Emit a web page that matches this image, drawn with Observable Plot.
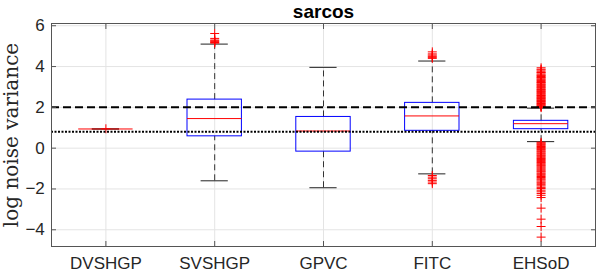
<!DOCTYPE html>
<html><head><meta charset="utf-8">
<script src="https://cdn.jsdelivr.net/npm/d3@7"></script>
<script src="https://cdn.jsdelivr.net/npm/@observablehq/plot@0.6"></script>
<style>html,body{margin:0;padding:0;background:#fff;} #chart svg{display:block;}</style>
</head><body><div id="chart"></div>
<script>
const title = "sarcos";
const yLabel = "log noise variance";
const categories = ["DVSHGP", "SVSHGP", "GPVC", "FITC", "EHSoD"];
const yTicks = [-4, -2, 0, 2, 4, 6];
const yDomain = [-4.82, 6.11];

// box statistics per category
const q1 = [0.94, 0.58, -0.17, 0.85, 0.93];
const median = [0.94, 1.45, 0.84, 1.58, 1.20];
const q3 = [0.94, 2.38, 1.53, 2.22, 1.34];
const whiskerLow = [0.94, -1.60, -1.94, -1.26, 0.32];
const whiskerHigh = [0.94, 5.10, 3.96, 4.27, 1.96];

// outliers per category
const outliersDVSHGP = [0.95];
const outliersSVSHGP = [5.62, 5.38, 5.30, 5.26, 5.22, 5.18, 5.15];
const outliersGPVC = [];
const outliersFITC = [4.72, 4.62, 4.56, 4.50, 4.45, 4.40, -1.34, -1.42, -1.50, -1.58, -1.66, -1.74];
const outliersEHSoD = [3.94, 3.87, 3.83, 3.77, 3.71, 3.69, 3.63, 3.58, 3.55, 3.51, 3.46, 3.44, 3.39, 3.35, 3.31, 3.27, 3.22, 3.20, 3.15, 3.11, 3.08, 3.03, 2.99, 2.96, 2.91, 2.87, 2.84, 2.80, 2.77, 2.72, 2.69, 2.65, 2.61, 2.58, 2.54, 2.50, 2.47, 2.43, 2.40, 2.36, 2.33, 2.29, 2.26, 2.22, 2.19, 2.15, 2.12, 2.08, 2.05, 2.02, 1.99,
  0.29, 0.25, 0.21, 0.17, 0.12, 0.08, 0.03, -0.01, -0.06, -0.10, -0.15, -0.19, -0.24, -0.28, -0.33, -0.37, -0.42, -0.47, -0.51, -0.56, -0.60, -0.65, -0.70, -0.74, -0.79, -0.84, -0.88, -0.93, -0.98, -1.03, -1.08, -1.13, -1.17, -1.23, -1.28, -1.33, -1.39, -1.44, -1.50, -1.55, -1.61, -1.67, -1.72, -1.79, -1.85, -1.92, -1.98, -2.06, -2.14, -2.22, -2.31, -2.42, -2.94, -3.48, -3.84, -4.36];

// reference lines
const refDashed = 2;
const refDotted = 0.81;

const outlierLists = [outliersDVSHGP, outliersSVSHGP, outliersGPVC, outliersFITC, outliersEHSoD];
const positions = categories.map((_, i) => i + 1);
const boxes = categories.map((c, i) => ({pos: i + 1, q1: q1[i], med: median[i], q3: q3[i], lo: whiskerLow[i], hi: whiskerHigh[i]}));
const outlierRows = outlierLists.flatMap((list, i) => list.map(v => ({pos: i + 1, v})));

const halfBox = 0.25, halfCap = 0.125;

const chart = Plot.plot({
  width: 596, height: 272,
  marginLeft: 51, marginRight: 1, marginTop: 23, marginBottom: 26,
  style: {fontFamily: "'Liberation Sans', Arial, sans-serif", color: "#262626", background: "white", overflow: "visible"},
  x: {type: "linear", domain: [0.5, 5.5]},
  y: {domain: yDomain},
  marks: [
    Plot.gridY(yTicks, {stroke: "#e4e4e4", strokeOpacity: 1}),
    Plot.gridX(positions, {stroke: "#e4e4e4", strokeOpacity: 1}),
    Plot.ruleX(boxes, {x: "pos", y1: "q3", y2: "hi", stroke: "#333", strokeDasharray: "6,4"}),
    Plot.ruleX(boxes, {x: "pos", y1: "lo", y2: "q1", stroke: "#333", strokeDasharray: "6,4"}),
    Plot.ruleY(boxes, {y: "hi", x1: d => d.pos - halfCap, x2: d => d.pos + halfCap, stroke: "#222"}),
    Plot.ruleY(boxes, {y: "lo", x1: d => d.pos - halfCap, x2: d => d.pos + halfCap, stroke: "#222"}),
    Plot.rect(boxes, {x1: d => d.pos - halfBox, x2: d => d.pos + halfBox, y1: "q1", y2: "q3", stroke: "#0000ff", fill: "none"}),
    Plot.ruleY(boxes, {y: "med", x1: d => d.pos - halfBox, x2: d => d.pos + halfBox, stroke: "#ff0000"}),
    Plot.dot(outlierRows, {x: "pos", y: "v", symbol: "plus", r: 3, stroke: "#ff0000", strokeWidth: 1}),
    Plot.ruleY([refDashed], {stroke: "black", strokeWidth: 2, strokeDasharray: "8,4"}),
    Plot.ruleY([refDotted], {stroke: "black", strokeWidth: 2, strokeDasharray: "2,1.5"}),
    Plot.frame({stroke: "#555"}),
    Plot.axisY(yTicks, {anchor: "left", tickSize: -5, tickPadding: 11.7, fontSize: 17, label: null, stroke: "#555", fill: "#262626"}),
    Plot.axisY(yTicks, {anchor: "right", tickSize: -5, tickFormat: () => "", label: null, stroke: "#555"}),
    Plot.axisX(positions, {anchor: "bottom", tickSize: -5, tickPadding: 15, fontSize: 17, tickFormat: d => categories[d - 1], label: null, stroke: "#555", fill: "#262626"}),
    Plot.axisX(positions, {anchor: "top", tickSize: -5, tickFormat: () => "", label: null, stroke: "#555"}),
    Plot.text([title], {text: d => d, frameAnchor: "top", textAnchor: "middle", lineAnchor: "bottom", dy: -5.7, fontSize: 19, fontWeight: "bold", fill: "black"}),
    Plot.text([yLabel], {text: d => d, frameAnchor: "left", textAnchor: "middle", rotate: -90, lineAnchor: "bottom", dx: -34, fontSize: 20, fontFamily: "'DejaVu Serif', serif", fill: "#262626"})
  ]
});
document.getElementById("chart").appendChild(chart);
</script>
</body></html>
